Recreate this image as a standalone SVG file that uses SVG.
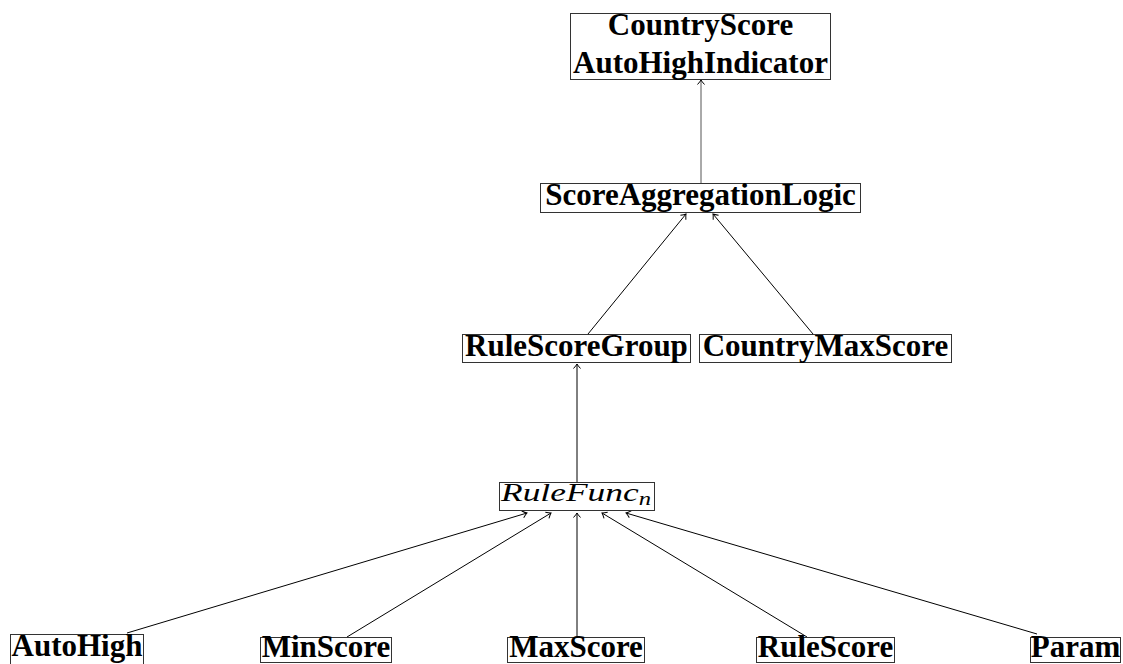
<svg xmlns="http://www.w3.org/2000/svg" width="1123" height="664" viewBox="0 0 1123 664">
<defs>
<marker id="arr" markerUnits="userSpaceOnUse" markerWidth="12" markerHeight="12" viewBox="-6 -6 12 12" refX="0" refY="0" orient="auto">
<path d="M-4.5,-3.5 Q-1.5,-0.8 0,0 Q-1.5,0.8 -4.5,3.5" fill="none" stroke="#000" stroke-width="1"/>
</marker>
<style>
.box{fill:#fff;stroke:#333;stroke-width:1}
.lbl{font-family:"Liberation Serif","Times New Roman",serif;font-weight:bold;font-size:31px;fill:#000;text-anchor:middle}
.math{font-family:"Liberation Serif","Times New Roman",serif;font-style:italic;font-size:26px;fill:#000}
.edge{fill:none;stroke:#000;stroke-width:1;marker-end:url(#arr)}
</style>
</defs>
<rect width="1123" height="664" fill="#fff"/>
<g id="connectors">
<line class="edge" x1="701" y1="183" x2="701" y2="80" style="stroke:#555"/>
<line class="edge" x1="588" y1="334" x2="686" y2="214"/>
<line class="edge" x1="813" y1="334" x2="713" y2="214"/>
<line class="edge" x1="577" y1="482" x2="577" y2="364"/>
<line class="edge" x1="127" y1="633" x2="527" y2="513"/>
<line class="edge" x1="347" y1="637" x2="551" y2="513"/>
<line class="edge" x1="577" y1="637" x2="577" y2="513"/>
<line class="edge" x1="807" y1="637" x2="602" y2="513"/>
<line class="edge" x1="1037" y1="634" x2="626" y2="513"/>
</g>
<g id="node-countryscore">
<rect class="box" x="570.5" y="13.5" width="260" height="66"/>
<text class="lbl" x="700.5" y="35">CountryScore</text>
<text class="lbl" x="700.5" y="73">AutoHighIndicator</text>
</g>
<g id="node-scoreaggregationlogic">
<rect class="box" x="540.5" y="183.5" width="320" height="29"/>
<text class="lbl" x="700.5" y="205">ScoreAggregationLogic</text>
</g>
<g id="node-rulescoregroup">
<rect class="box" x="462.5" y="334.5" width="228" height="28"/>
<text class="lbl" x="576.5" y="356">RuleScoreGroup</text>
</g>
<g id="node-countrymaxscore">
<rect class="box" x="699.5" y="334.5" width="252" height="28"/>
<text class="lbl" x="825.5" y="356">CountryMaxScore</text>
</g>
<g id="node-rulefunc">
<rect class="box" x="499.5" y="482.5" width="155" height="28"/>
<text class="math" x="501" y="501" textLength="150" lengthAdjust="spacingAndGlyphs">RuleFunc<tspan dy="4" font-size="18">n</tspan></text>
</g>
<g id="node-autohigh">
<rect class="box" x="10.5" y="634.5" width="133" height="34"/>
<text class="lbl" x="77" y="656">AutoHigh</text>
</g>
<g id="node-minscore">
<rect class="box" x="260.5" y="637.5" width="131" height="25"/>
<text class="lbl" x="326" y="657">MinScore</text>
</g>
<g id="node-maxscore">
<rect class="box" x="507.5" y="637.5" width="137" height="25"/>
<text class="lbl" x="576" y="657">MaxScore</text>
</g>
<g id="node-rulescore">
<rect class="box" x="756.5" y="637.5" width="138" height="25"/>
<text class="lbl" x="825.5" y="657">RuleScore</text>
</g>
<g id="node-param">
<rect class="box" x="1030.5" y="637.5" width="90" height="25"/>
<text class="lbl" x="1075.5" y="657">Param</text>
</g>
</svg>
